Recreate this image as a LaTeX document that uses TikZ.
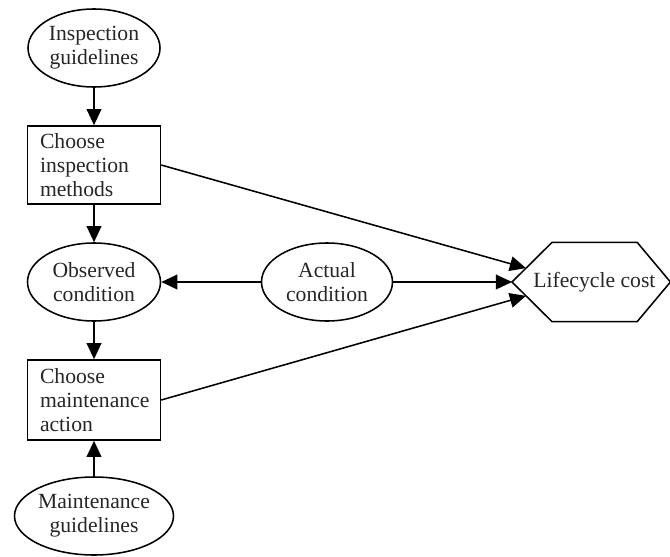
\documentclass[tikz,border=0pt]{standalone}
\usepackage{fontspec}
\setmainfont{Liberation Serif}
\usetikzlibrary{arrows.meta, shapes.geometric, calc}

\begin{document}
\begin{tikzpicture}[>={Triangle[length=11.5pt, width=10.5pt]}, line width=1.1pt,
  every node/.style={font=\fontsize{15.4}{17}\selectfont, text=black!85},
  ellip/.style={draw, ellipse, minimum height=1.95cm, inner sep=0pt, align=center},
  box/.style={draw, rectangle, text width=2.7cm, inner xsep=0.31cm,
              inner ysep=0.1cm, minimum height=1.95cm, align=left}]
  \useasboundingbox (0,0) rectangle (16.75,13.9);

  % Left column: guidelines, decisions, observation
  \node[ellip, minimum width=3.3cm] (ig) at (2.35,12.7) {Inspection\\guidelines};
  \node[box] (cim) at (2.35,9.775) {Choose\\inspection\\methods};
  \node[ellip, minimum width=3.325cm] (oc) at (2.35,6.85) {Observed\\condition};
  \node[box, minimum height=2cm] (cma) at (2.35,3.9) {Choose\\maintenance\\action};
  \node[ellip, minimum width=3.975cm] (mg) at (2.35,1.0) {Maintenance\\guidelines};

  % Actual state and the cost outcome
  \node[ellip, minimum width=3.275cm] (ac) at (8.175,6.85) {Actual\\condition};
  \node (lc) at (14.86,6.85) {Lifecycle cost};
  \draw ($(lc)+(-2.06,0)$) coordinate (lcw)
    -- ($(lc)+(-1.06,0.99)$) coordinate (lcn)
    -- ($(lc)+(1.07,0.99)$)
    -- ($(lc)+(1.9,0)$)
    -- ($(lc)+(1.07,-0.99)$)
    -- ($(lc)+(-1.06,-0.99)$) coordinate (lcs)
    -- cycle;
  \coordinate (lcnw) at ($(lcw)!0.35!(lcn)$);
  \coordinate (lcsw) at ($(lcw)!0.35!(lcs)$);

  % Arrows
  \draw[->] (ig) -- (cim);
  \draw[->] (cim) -- (oc);
  \draw[->] (oc) -- (cma);
  \draw[->] (mg) -- (cma);
  \draw[->] (ac) -- (oc);
  \draw[->] (cim.east) -- (lcnw);
  \draw[->] (ac) -- (lcw);
  \draw[->] (cma.east) -- (lcsw);
\end{tikzpicture}
\end{document}
